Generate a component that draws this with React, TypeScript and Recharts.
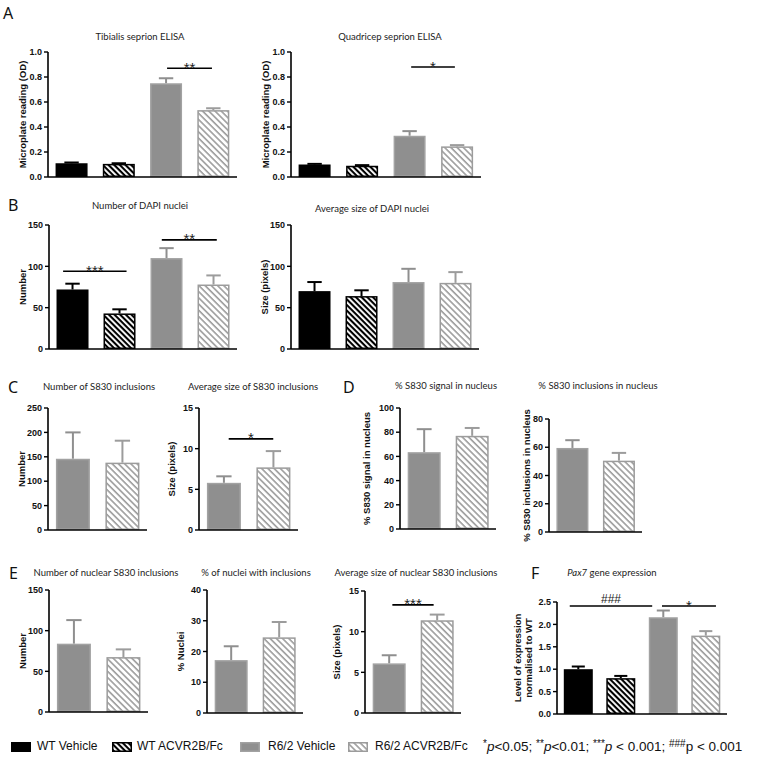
import React from "react";
import { BarChart, Bar, XAxis, YAxis, ReferenceLine, Label } from "recharts";

// treatment groups
const allGroups = ["WT Vehicle", "WT ACVR2B/Fc", "R6/2 Vehicle", "R6/2 ACVR2B/Fc"];
const r6Groups = ["R6/2 Vehicle", "R6/2 ACVR2B/Fc"];

// A - seprion ELISA (OD)
const tibialisMean = [0.11, 0.105, 0.75, 0.535];
const tibialisSem = [0.006, 0.005, 0.04, 0.015];
const quadricepMean = [0.1, 0.09, 0.33, 0.245];
const quadricepSem = [0.005, 0.005, 0.037, 0.01];
const odTicks = [0, 0.2, 0.4, 0.6, 0.8, 1.0];

// B - DAPI nuclei
const dapiCountMean = [72, 43, 110, 78];
const dapiCountSem = [7, 5, 12, 11];
const dapiSizeMean = [70, 64, 81, 80];
const dapiSizeSem = [11, 7, 16, 13];
const dapiTicks = [0, 50, 100, 150];

// C - S830 inclusions
const s830CountMean = [146, 138];
const s830CountSem = [54, 45];
const s830CountTicks = [0, 50, 100, 150, 200, 250];
const s830SizeMean = [5.8, 7.7];
const s830SizeSem = [0.8, 2.0];
const sizeTicks = [0, 5, 10, 15];

// D - nuclear S830
const signalNucMean = [63.5, 77];
const signalNucSem = [19, 6.5];
const signalTicks = [0, 20, 40, 60, 80, 100];
const inclNucMean = [59.5, 50.5];
const inclNucSem = [5.5, 5.5];
const inclTicks = [0, 20, 40, 60, 80];

// E - nuclear inclusions
const nucInclCountMean = [84, 67.5];
const nucInclCountSem = [29, 9.5];
const nucInclCountTicks = [0, 50, 100, 150];
const nucleiPctMean = [17.2, 24.6];
const nucleiPctSem = [4.5, 5];
const nucleiPctTicks = [0, 10, 20, 30, 40];
const nucInclSizeMean = [6.1, 11.4];
const nucInclSizeSem = [1.0, 0.7];

// F - Pax7
const pax7Mean = [1.0, 0.8, 2.16, 1.75];
const pax7Sem = [0.06, 0.05, 0.15, 0.1];
const pax7Ticks = [0, 0.5, 1.0, 1.5, 2.0, 2.5];

const GROUP_STYLE: Record<string, { fill: string; stroke: string; err: string }> = {
  "WT Vehicle": { fill: "#000", stroke: "#000", err: "#000" },
  "WT ACVR2B/Fc": { fill: "url(#hatchBlack)", stroke: "#000", err: "#000" },
  "R6/2 Vehicle": { fill: "#8f8f8f", stroke: "#a2a2a2", err: "#8f8f8f" },
  "R6/2 ACVR2B/Fc": { fill: "url(#hatchGray)", stroke: "#9c9c9c", err: "#9c9c9c" },
};

const TICK_FONT = "'Liberation Sans', Arial, sans-serif";
const TITLE_FONT = "Lato, 'Open Sans', sans-serif";

// significance bars: from/to in group positions (1 = first bar centre)
type Sig = { from: number; to: number; y: number; mark: string };
type PanelDef = {
  groups: string[];
  mean: number[];
  sem: number[];
  ticks: number[];
  decimals: number;
  axisX: number;
  right: number;
  topY: number;
  zeroY: number;
  yLabel: string[];
  yLabelX: number;
  sigs?: Sig[];
};

const panels: PanelDef[] = [
  { groups: allGroups, mean: tibialisMean, sem: tibialisSem, ticks: odTicks, decimals: 1,
    axisX: 48, right: 237, topY: 52, zeroY: 177, yLabel: ["Microplate reading (OD)"], yLabelX: 22,
    sigs: [{ from: 3.02, to: 3.97, y: 0.87, mark: "**" }] },
  { groups: allGroups, mean: quadricepMean, sem: quadricepSem, ticks: odTicks, decimals: 1,
    axisX: 291, right: 481, topY: 52, zeroY: 177, yLabel: ["Microplate reading (OD)"], yLabelX: 265,
    sigs: [{ from: 3.03, to: 3.95, y: 0.88, mark: "*" }] },
  { groups: allGroups, mean: dapiCountMean, sem: dapiCountSem, ticks: dapiTicks, decimals: 0,
    axisX: 49, right: 237, topY: 225, zeroY: 349, yLabel: ["Number"], yLabelX: 22,
    sigs: [{ from: 0.8, to: 2.15, y: 94, mark: "***" }, { from: 2.9, to: 4.07, y: 132, mark: "**" }] },
  { groups: allGroups, mean: dapiSizeMean, sem: dapiSizeSem, ticks: dapiTicks, decimals: 0,
    axisX: 291, right: 479, topY: 225, zeroY: 349, yLabel: ["Size (pixels)"], yLabelX: 264 },
  { groups: r6Groups, mean: s830CountMean, sem: s830CountSem, ticks: s830CountTicks, decimals: 0,
    axisX: 48, right: 147, topY: 408, zeroY: 530, yLabel: ["Number"], yLabelX: 21 },
  { groups: r6Groups, mean: s830SizeMean, sem: s830SizeSem, ticks: sizeTicks, decimals: 0,
    axisX: 199, right: 298, topY: 408, zeroY: 530, yLabel: ["Size (pixels)"], yLabelX: 171,
    sigs: [{ from: 1.1, to: 2.0, y: 11.2, mark: "*" }] },
  { groups: r6Groups, mean: signalNucMean, sem: signalNucSem, ticks: signalTicks, decimals: 0,
    axisX: 400, right: 496, topY: 408, zeroY: 529, yLabel: ["% S830 signal in nucleus"], yLabelX: 366 },
  { groups: r6Groups, mean: inclNucMean, sem: inclNucSem, ticks: inclTicks, decimals: 0,
    axisX: 549, right: 642, topY: 419, zeroY: 532, yLabel: ["% S830 inclusions in nucleus"], yLabelX: 526 },
  { groups: r6Groups, mean: nucInclCountMean, sem: nucInclCountSem, ticks: nucInclCountTicks, decimals: 0,
    axisX: 49, right: 148, topY: 590, zeroY: 712, yLabel: ["Number"], yLabelX: 22 },
  { groups: r6Groups, mean: nucleiPctMean, sem: nucleiPctSem, ticks: nucleiPctTicks, decimals: 0,
    axisX: 207, right: 303, topY: 590, zeroY: 713, yLabel: ["% Nuclei"], yLabelX: 180 },
  { groups: r6Groups, mean: nucInclSizeMean, sem: nucInclSizeSem, ticks: sizeTicks, decimals: 0,
    axisX: 365, right: 461, topY: 591, zeroY: 713, yLabel: ["Size (pixels)"], yLabelX: 336,
    sigs: [{ from: 1.07, to: 1.93, y: 13.3, mark: "***" }] },
  { groups: allGroups, mean: pax7Mean, sem: pax7Sem, ticks: pax7Ticks, decimals: 1,
    axisX: 557, right: 727, topY: 602, zeroY: 714, yLabel: ["Level of expression", "normalised to WT"], yLabelX: 523,
    sigs: [{ from: 0.8, to: 2.74, y: 2.41, mark: "###" }, { from: 2.97, to: 4.24, y: 2.41, mark: "*" }] },
];

const titles: { text: string; x: number; y: number; italic?: string }[] = [
  { text: "Tibialis seprion ELISA", x: 140, y: 40 },
  { text: "Quadricep seprion ELISA", x: 390, y: 40 },
  { text: "Number of DAPI nuclei", x: 140, y: 209 },
  { text: "Average size of DAPI nuclei", x: 372, y: 212 },
  { text: "Number of S830 inclusions", x: 99, y: 390 },
  { text: "Average size of S830 inclusions", x: 253, y: 390 },
  { text: "% S830 signal in nucleus", x: 446, y: 389 },
  { text: "% S830 inclusions in nucleus", x: 598, y: 389 },
  { text: "Number of nuclear S830 inclusions", x: 106, y: 576 },
  { text: "% of nuclei with inclusions", x: 256, y: 576 },
  { text: "Average size of nuclear S830 inclusions", x: 416, y: 576 },
  { text: " gene expression", x: 612, y: 576, italic: "Pax7" },
];

const letters = [
  { t: "A", x: 3, y: 19 },
  { t: "B", x: 8, y: 211 },
  { t: "C", x: 8, y: 393 },
  { t: "D", x: 343, y: 393 },
  { t: "E", x: 9, y: 579 },
  { t: "F", x: 531, y: 579 },
];

const legendItems = [
  { name: "WT Vehicle", box: 11, text: 37 },
  { name: "WT ACVR2B/Fc", box: 112, text: 137 },
  { name: "R6/2 Vehicle", box: 240, text: 268 },
  { name: "R6/2 ACVR2B/Fc", box: 348, text: 375 },
];

const YW = 50;
const MT = 16;
const MR = 4;
const MB = 12;
const XH = 2;

function BarWithError(props: any) {
  const { x, y, width, height, payload } = props;
  if (!payload || !height) return null;
  const s = GROUP_STYLE[payload.name];
  const errY = y + height - height * (payload.top / payload.value);
  const cx = x + width / 2;
  const cap = width * 0.45;
  return (
    <g>
      <line x1={cx} x2={cx} y1={y} y2={errY} stroke={s.err} strokeWidth={2} />
      <line x1={cx - cap / 2} x2={cx + cap / 2} y1={errY} y2={errY} stroke={s.err} strokeWidth={2} />
      <rect x={x + 0.75} y={y + 0.75} width={width - 1.5} height={height - 1.5}
        fill={s.fill} stroke={s.stroke} strokeWidth={1.5} />
    </g>
  );
}

// line between two category centres, nudged by fractional band offsets, with its mark
function sigShape(s: Sig, band: number) {
  const offFrom = s.from - Math.round(s.from);
  const offTo = s.to - Math.round(s.to);
  const hash = s.mark.includes("#");
  return (p: any) => {
    const xa = p.x1 + offFrom * band;
    const xb = p.x2 + offTo * band;
    const yy = p.y1;
    return (
      <g>
        <line x1={xa} x2={xb} y1={yy} y2={yy} stroke="#000" strokeWidth={1.6} />
        <text x={(xa + xb) / 2} y={hash ? yy - 3 : yy + 4.5} textAnchor="middle"
          fontSize={hash ? 12 : 15} fontFamily={TICK_FONT} fill="#222">
          {s.mark}
        </text>
      </g>
    );
  };
}

function Panel({ d }: { d: PanelDef }) {
  const rows = d.groups.map((name, i) => ({ name, value: d.mean[i], top: d.mean[i] + d.sem[i] }));
  const left = d.axisX - YW;
  const plotH = d.zeroY - d.topY;
  const width = d.right - left + MR;
  const height = MT + plotH + XH + MB;
  const band = (d.right - d.axisX) / d.groups.length;
  const lx = d.yLabelX - left;
  const ly = MT + plotH / 2;
  const lines = d.yLabel;
  return (
    <div style={{ position: "absolute", left, top: d.topY - MT }}>
      <BarChart width={width} height={height} data={rows}
        margin={{ top: MT, right: MR, left: 0, bottom: MB }} barCategoryGap="16%">
        <XAxis dataKey="name" tick={false} tickLine={false} height={XH}
          axisLine={{ stroke: "#000", strokeWidth: 1.6 }} />
        <YAxis width={YW} domain={[0, d.ticks[d.ticks.length - 1]]} ticks={d.ticks} interval={0}
          tickFormatter={(v: number) => v.toFixed(d.decimals)}
          tick={{ fontSize: 9, fontWeight: 700, fontFamily: TICK_FONT, fill: "#111" }}
          tickSize={4} tickLine={{ stroke: "#000", strokeWidth: 1.4 }}
          axisLine={{ stroke: "#000", strokeWidth: 1.6 }}>
          <Label content={() => (
            <text transform={`translate(${lx},${ly}) rotate(-90)`} textAnchor="middle"
              fontSize={9.5} fontWeight={700} fontFamily={TICK_FONT} fill="#111">
              {lines.map((t, i) => (
                <tspan key={i} x={0} y={(i - (lines.length - 1) / 2) * 11} dominantBaseline="central">{t}</tspan>
              ))}
            </text>
          )} />
        </YAxis>
        <Bar dataKey="value" isAnimationActive={false} shape={<BarWithError />} />
        {(d.sigs || []).map((s, i) => (
          <ReferenceLine key={i} ifOverflow="visible"
            segment={[
              { x: d.groups[Math.round(s.from) - 1], y: s.y },
              { x: d.groups[Math.round(s.to) - 1], y: s.y },
            ]}
            shape={sigShape(s, band)} />
        ))}
      </BarChart>
    </div>
  );
}

function LegendBox({ name }: { name: string }) {
  const s = GROUP_STYLE[name];
  return (
    <svg width={20} height={10} style={{ display: "block" }}>
      <rect x={0.75} y={0.75} width={18.5} height={8.5} fill={s.fill} stroke={s.stroke} strokeWidth={1.5} />
    </svg>
  );
}

const supStyle = { fontSize: 10, verticalAlign: "4px" } as const;

export default function App() {
  return (
    <div style={{ position: "absolute", left: 0, top: 0, width: 760, height: 758, background: "#fff", overflow: "hidden" }}>
      <svg width={0} height={0} style={{ position: "absolute" }}>
        <defs>
          <pattern id="hatchBlack" patternUnits="userSpaceOnUse" width={4} height={4} patternTransform="rotate(45)">
            <rect width={4} height={4} fill="#fff" />
            <rect width={4} height={2.1} fill="#000" />
          </pattern>
          <pattern id="hatchGray" patternUnits="userSpaceOnUse" width={4.4} height={4.4} patternTransform="rotate(45)">
            <rect width={4.4} height={4.4} fill="#fff" />
            <rect width={4.4} height={1.6} fill="#9c9c9c" />
          </pattern>
        </defs>
      </svg>

      {panels.map((d, i) => (
        <Panel key={i} d={d} />
      ))}

      <svg width={760} height={758} style={{ position: "absolute", left: 0, top: 0, pointerEvents: "none" }}>
        {titles.map((t, i) => (
          <text key={i} x={t.x} y={t.y} textAnchor="middle" fontSize={9.5} fontFamily={TITLE_FONT} fill="#222">
            {t.italic ? <tspan fontStyle="italic">{t.italic}</tspan> : null}
            {t.text}
          </text>
        ))}
        {letters.map((l) => (
          <text key={l.t} x={l.x} y={l.y} fontSize={16} fontFamily="'Noto Sans', sans-serif" fill="#111">
            {l.t}
          </text>
        ))}
      </svg>

      <div style={{ position: "absolute", left: 0, top: 739, width: 760, height: 18, fontFamily: TICK_FONT, fontSize: 12, color: "#111" }}>
        {legendItems.map((it) => (
          <React.Fragment key={it.name}>
            <div style={{ position: "absolute", left: it.box, top: 3 }}>
              <LegendBox name={it.name} />
            </div>
            <div style={{ position: "absolute", left: it.text, top: 0, whiteSpace: "nowrap" }}>{it.name}</div>
          </React.Fragment>
        ))}
        <div style={{ position: "absolute", left: 483, top: -1, whiteSpace: "nowrap", fontSize: 13.5 }}>
          <span style={supStyle}>*</span><i>p</i>&lt;0.05; <span style={supStyle}>**</span><i>p</i>&lt;0.01;{" "}
          <span style={supStyle}>***</span><i>p</i> &lt; 0.001; <span style={supStyle}>###</span>p &lt; 0.001
        </div>
      </div>
    </div>
  );
}
